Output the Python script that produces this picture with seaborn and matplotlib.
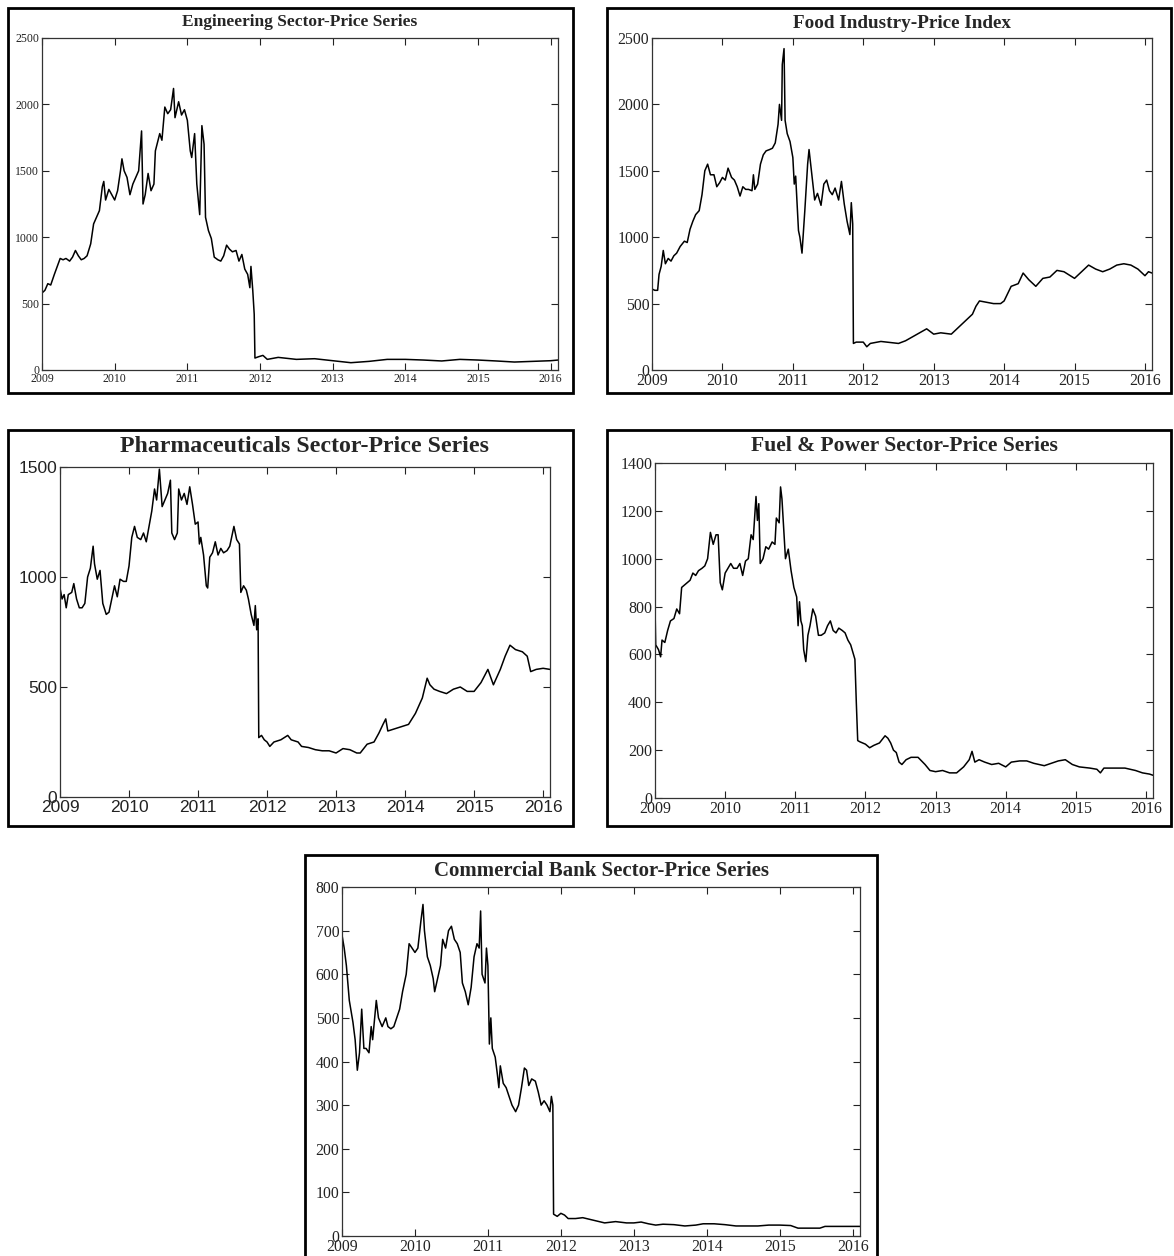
import matplotlib
matplotlib.use("Agg")
import matplotlib.pyplot as plt
from matplotlib.patches import Rectangle
import seaborn as sns
import pandas as pd

# ---------------- data (decimal year, price) ----------------
eng_t = [2009.0, 2009.04, 2009.08, 2009.12, 2009.17, 2009.21, 2009.25, 2009.29, 2009.33, 2009.38,
         2009.42, 2009.46, 2009.50, 2009.54, 2009.58, 2009.62, 2009.67, 2009.71, 2009.75, 2009.79,
         2009.83, 2009.85, 2009.875, 2009.92, 2009.96, 2010.0, 2010.04, 2010.08, 2010.10, 2010.13,
         2010.17, 2010.21, 2010.25, 2010.29, 2010.33, 2010.37, 2010.39, 2010.42, 2010.46, 2010.50,
         2010.54, 2010.56, 2010.62, 2010.65, 2010.69, 2010.73, 2010.77, 2010.81, 2010.83, 2010.88,
         2010.92, 2010.96, 2011.0, 2011.04, 2011.06, 2011.10, 2011.13, 2011.17, 2011.20, 2011.23,
         2011.25, 2011.29, 2011.33, 2011.37, 2011.42, 2011.46, 2011.50, 2011.54, 2011.58, 2011.62,
         2011.67, 2011.71, 2011.75, 2011.79, 2011.83, 2011.86, 2011.875, 2011.90, 2011.92, 2011.93,
         2011.98, 2012.04, 2012.10, 2012.25, 2012.50, 2012.75, 2013.0, 2013.25, 2013.5, 2013.75,
         2014.0, 2014.25, 2014.5, 2014.75, 2015.0, 2015.25, 2015.5, 2015.75, 2016.0, 2016.1]
eng_v = [580, 600, 650, 640, 720, 780, 840, 830, 840, 820,
         850, 900, 860, 830, 840, 860, 950, 1100, 1150, 1200,
         1380, 1420, 1280, 1360, 1320, 1280, 1350, 1500, 1590, 1500,
         1450, 1320, 1400, 1450, 1500, 1800, 1250, 1320, 1480, 1350,
         1400, 1650, 1780, 1730, 1980, 1930, 1960, 2120, 1900, 2020,
         1920, 1960, 1880, 1650, 1600, 1780, 1400, 1170, 1840, 1700,
         1150, 1050, 990, 850, 830, 820, 860, 940, 910, 890,
         900, 820, 870, 760, 720, 620, 780, 600, 420, 90,
         100, 110, 80, 95, 80, 85, 70, 55, 65, 80,
         80, 75, 68, 80, 75, 68, 60, 65, 70, 75]

food_t = [2009.0, 2009.04, 2009.08, 2009.10, 2009.13, 2009.16, 2009.19, 2009.23, 2009.27, 2009.31,
          2009.35, 2009.40, 2009.46, 2009.50, 2009.54, 2009.58, 2009.62, 2009.67, 2009.71, 2009.75,
          2009.79, 2009.83, 2009.88, 2009.92, 2009.96, 2010.0, 2010.04, 2010.08, 2010.13, 2010.17,
          2010.21, 2010.25, 2010.29, 2010.33, 2010.37, 2010.42, 2010.44, 2010.46, 2010.50, 2010.54,
          2010.58, 2010.62, 2010.67, 2010.71, 2010.75, 2010.79, 2010.81, 2010.84, 2010.85, 2010.875,
          2010.89, 2010.92, 2010.96, 2011.0, 2011.02, 2011.04, 2011.08, 2011.10, 2011.13, 2011.17,
          2011.21, 2011.23, 2011.27, 2011.31, 2011.35, 2011.40, 2011.44, 2011.48, 2011.52, 2011.56,
          2011.60, 2011.65, 2011.69, 2011.73, 2011.77, 2011.81, 2011.83, 2011.85, 2011.86, 2011.90,
          2012.0, 2012.05, 2012.10, 2012.25, 2012.50, 2012.60, 2012.70, 2012.80, 2012.90, 2012.95,
          2013.0, 2013.10, 2013.25, 2013.35, 2013.45, 2013.55, 2013.60, 2013.65, 2013.75, 2013.85,
          2013.95, 2014.0, 2014.10, 2014.20, 2014.27, 2014.35, 2014.45, 2014.55, 2014.65, 2014.75,
          2014.85, 2015.0, 2015.10, 2015.20, 2015.30, 2015.40, 2015.50, 2015.60, 2015.70, 2015.80,
          2015.90, 2016.0, 2016.05, 2016.1]
food_v = [610, 600, 600, 720, 780, 900, 800, 840, 820, 860,
          880, 930, 970, 960, 1060, 1120, 1170, 1200, 1320, 1500,
          1550, 1470, 1470, 1380, 1410, 1450, 1430, 1520, 1450, 1430,
          1380, 1310, 1380, 1360, 1360, 1350, 1470, 1360, 1400, 1550,
          1620, 1650, 1660, 1670, 1710, 1850, 2000, 1880, 2300, 2420,
          1880, 1780, 1720, 1600, 1400, 1460, 1050, 1000, 880, 1200,
          1550, 1660, 1470, 1280, 1330, 1240, 1400, 1430, 1350, 1320,
          1370, 1280, 1420, 1250, 1120, 1020, 1260, 1100, 200, 210,
          210, 175, 200, 215, 200, 220, 250, 280, 310, 290,
          270, 280, 270, 320, 370, 420, 480, 520, 510, 500,
          500, 520, 630, 650, 730, 680, 630, 690, 700, 750,
          740, 690, 740, 790, 760, 740, 760, 790, 800, 790,
          760, 710, 740, 730]

pharma_t = [2009.0, 2009.03, 2009.06, 2009.09, 2009.12, 2009.17, 2009.20, 2009.24, 2009.28, 2009.32,
            2009.36, 2009.40, 2009.44, 2009.48, 2009.50, 2009.54, 2009.58, 2009.62, 2009.67, 2009.71,
            2009.75, 2009.79, 2009.83, 2009.87, 2009.92, 2009.96, 2010.0, 2010.04, 2010.08, 2010.12,
            2010.17, 2010.21, 2010.25, 2010.29, 2010.33, 2010.37, 2010.40, 2010.44, 2010.48, 2010.52,
            2010.56, 2010.60, 2010.62, 2010.66, 2010.70, 2010.72, 2010.76, 2010.80, 2010.84, 2010.88,
            2010.92, 2010.96, 2011.0, 2011.02, 2011.04, 2011.08, 2011.12, 2011.14, 2011.17, 2011.21,
            2011.25, 2011.29, 2011.33, 2011.37, 2011.42, 2011.46, 2011.50, 2011.52, 2011.56, 2011.60,
            2011.62, 2011.66, 2011.70, 2011.73, 2011.77, 2011.81, 2011.83, 2011.85, 2011.87, 2011.88,
            2011.92, 2011.96, 2012.0, 2012.04, 2012.10, 2012.20, 2012.30, 2012.35, 2012.45, 2012.50,
            2012.60, 2012.70, 2012.80, 2012.90, 2013.0, 2013.10, 2013.20, 2013.30, 2013.35, 2013.45,
            2013.55, 2013.62, 2013.68, 2013.72, 2013.75, 2013.85, 2013.95, 2014.05, 2014.15, 2014.25,
            2014.32, 2014.36, 2014.42, 2014.50, 2014.60, 2014.70, 2014.80, 2014.90, 2015.0, 2015.10,
            2015.20, 2015.28, 2015.38, 2015.45, 2015.52, 2015.60, 2015.70, 2015.77, 2015.82, 2015.90,
            2016.0, 2016.1]
pharma_v = [950, 900, 920, 860, 920, 930, 970, 900, 860, 860,
            880, 1000, 1040, 1140, 1060, 990, 1030, 880, 830, 840,
            900, 960, 910, 990, 980, 980, 1050, 1180, 1230, 1180,
            1170, 1200, 1160, 1230, 1300, 1400, 1350, 1490, 1320, 1350,
            1380, 1440, 1200, 1170, 1200, 1400, 1350, 1380, 1330, 1410,
            1330, 1240, 1250, 1150, 1180, 1100, 960, 950, 1090, 1110,
            1160, 1100, 1130, 1110, 1120, 1140, 1200, 1230, 1170, 1150,
            930, 960, 940, 900, 830, 780, 870, 760, 810, 270,
            280, 260, 250, 230, 250, 260, 280, 260, 250, 230,
            225, 215, 210, 210, 200, 220, 215, 200, 200, 240,
            250, 290, 330, 355, 300, 310, 320, 330, 380, 450,
            540, 510, 490, 480, 470, 490, 500, 480, 480, 520,
            580, 510, 580, 640, 690, 670, 660, 640, 570, 580,
            585, 580]

fuel_t = [2009.0, 2009.01, 2009.05, 2009.08, 2009.10, 2009.14, 2009.18, 2009.22, 2009.27, 2009.31,
          2009.35, 2009.38, 2009.42, 2009.46, 2009.50, 2009.54, 2009.58, 2009.62, 2009.67, 2009.71,
          2009.75, 2009.79, 2009.83, 2009.87, 2009.90, 2009.93, 2009.96, 2010.0, 2010.04, 2010.08,
          2010.12, 2010.17, 2010.21, 2010.25, 2010.29, 2010.33, 2010.37, 2010.40, 2010.44, 2010.46,
          2010.48, 2010.50, 2010.54, 2010.58, 2010.62, 2010.67, 2010.71, 2010.73, 2010.77, 2010.79,
          2010.81, 2010.83, 2010.86, 2010.90, 2010.94, 2010.98, 2011.02, 2011.04, 2011.06, 2011.08,
          2011.10, 2011.12, 2011.15, 2011.18, 2011.21, 2011.25, 2011.29, 2011.33, 2011.37, 2011.42,
          2011.46, 2011.50, 2011.54, 2011.58, 2011.62, 2011.67, 2011.71, 2011.75, 2011.79, 2011.83,
          2011.85, 2011.87, 2011.89, 2011.92, 2011.96, 2012.0, 2012.06, 2012.12, 2012.20, 2012.28,
          2012.32, 2012.36, 2012.40, 2012.44, 2012.48, 2012.52, 2012.58, 2012.65, 2012.75, 2012.85,
          2012.92, 2013.0, 2013.10, 2013.20, 2013.30, 2013.40, 2013.48, 2013.52, 2013.56, 2013.62,
          2013.70, 2013.80, 2013.90, 2014.0, 2014.08, 2014.20, 2014.30, 2014.40, 2014.55, 2014.65,
          2014.75, 2014.85, 2014.95, 2015.05, 2015.20, 2015.30, 2015.35, 2015.40, 2015.55, 2015.70,
          2015.85, 2015.95, 2016.05, 2016.1]
fuel_v = [800, 640, 620, 590, 660, 650, 700, 740, 750, 790,
          770, 880, 890, 900, 910, 940, 930, 950, 960, 970,
          1000, 1110, 1060, 1100, 1100, 900, 870, 940, 960, 980,
          960, 960, 980, 930, 990, 1000, 1100, 1080, 1260, 1160,
          1230, 980, 1000, 1050, 1040, 1070, 1060, 1170, 1150, 1300,
          1250, 1150, 1000, 1040, 950, 880, 840, 720, 820, 740,
          720, 620, 570, 680, 720, 790, 760, 680, 680, 690,
          720, 740, 700, 690, 710, 700, 690, 660, 640, 600,
          580, 400, 240, 235, 230, 225, 210, 220, 230, 260,
          250, 230, 200, 190, 150, 140, 160, 170, 170, 140,
          115, 110, 115, 105, 105, 130, 160, 195, 150, 160,
          150, 140, 145, 130, 150, 155, 155, 145, 135, 145,
          155, 160, 140, 130, 125, 120, 105, 125, 125, 125,
          115, 105, 100, 95]

bank_t = [2009.0, 2009.03, 2009.06, 2009.08, 2009.10, 2009.13, 2009.15, 2009.18, 2009.21, 2009.24,
          2009.27, 2009.30, 2009.33, 2009.37, 2009.40, 2009.42, 2009.47, 2009.50, 2009.55, 2009.60,
          2009.63, 2009.67, 2009.71, 2009.75, 2009.79, 2009.83, 2009.88, 2009.92, 2009.96, 2010.0,
          2010.04, 2010.08, 2010.11, 2010.13, 2010.17, 2010.21, 2010.25, 2010.27, 2010.31, 2010.35,
          2010.38, 2010.42, 2010.46, 2010.50, 2010.54, 2010.58, 2010.62, 2010.65, 2010.69, 2010.73,
          2010.77, 2010.81, 2010.85, 2010.88, 2010.90, 2010.92, 2010.96, 2010.98, 2011.0, 2011.02,
          2011.04, 2011.06, 2011.10, 2011.13, 2011.15, 2011.17, 2011.21, 2011.25, 2011.29, 2011.33,
          2011.38, 2011.42, 2011.46, 2011.50, 2011.53, 2011.56, 2011.60, 2011.65, 2011.69, 2011.73,
          2011.77, 2011.81, 2011.85, 2011.87, 2011.89, 2011.90, 2011.95, 2012.0, 2012.05, 2012.10,
          2012.20, 2012.30, 2012.40, 2012.50, 2012.60, 2012.75, 2012.90, 2013.0, 2013.10, 2013.20,
          2013.30, 2013.40, 2013.55, 2013.70, 2013.85, 2013.95, 2014.10, 2014.25, 2014.40, 2014.55,
          2014.70, 2014.85, 2015.0, 2015.15, 2015.25, 2015.40, 2015.55, 2015.62, 2015.80, 2016.0,
          2016.1]
bank_v = [690, 660, 620, 580, 540, 510, 490, 450, 380, 420,
          520, 430, 430, 420, 480, 450, 540, 500, 480, 500,
          480, 475, 480, 500, 520, 560, 600, 670, 660, 650,
          660, 720, 760, 700, 640, 620, 590, 560, 590, 620,
          680, 660, 700, 710, 680, 670, 650, 580, 560, 530,
          570, 640, 670, 660, 745, 600, 580, 660, 620, 440,
          500, 430, 410, 370, 340, 390, 350, 340, 320, 300,
          285, 300, 340, 385, 380, 345, 360, 355, 330, 300,
          310, 300, 285, 320, 300, 50, 45, 52, 48, 40,
          40, 42, 38, 34, 30, 33, 30, 30, 32, 28,
          25, 27, 26, 23, 25, 28, 28, 26, 23, 23,
          23, 25, 25, 24, 18, 18, 18, 22, 22, 22,
          22]

year_ticks = [2009, 2010, 2011, 2012, 2013, 2014, 2015, 2016]

panels = [
    dict(title="Engineering Sector-Price Series", t=eng_t, v=eng_v,
         yticks=[0, 500, 1000, 1500, 2000, 2500], ymax=2500,
         box=(8, 8, 573, 393), ax=(42, 38, 558, 370), ty=22,
         tfs=12.5, lfs=8.5, lfam="Liberation Serif"),
    dict(title="Food Industry-Price Index", t=food_t, v=food_v,
         yticks=[0, 500, 1000, 1500, 2000, 2500], ymax=2500,
         box=(607, 8, 1171, 393), ax=(652, 38, 1152, 370), ty=23,
         tfs=13.8, lfs=11.3, lfam="Liberation Serif"),
    dict(title="Pharmaceuticals Sector-Price Series", t=pharma_t, v=pharma_v,
         yticks=[0, 500, 1000, 1500], ymax=1500,
         box=(8, 430, 573, 826), ax=(60, 467, 550, 797), ty=447,
         tfs=17.2, lfs=12.5, lfam="Liberation Sans"),
    dict(title="Fuel & Power Sector-Price Series", t=fuel_t, v=fuel_v,
         yticks=[0, 200, 400, 600, 800, 1000, 1200, 1400], ymax=1400,
         box=(607, 430, 1171, 826), ax=(655, 463, 1153, 798), ty=446,
         tfs=15.6, lfs=11.5, lfam="Liberation Serif"),
    dict(title="Commercial Bank Sector-Price Series", t=bank_t, v=bank_v,
         yticks=[0, 100, 200, 300, 400, 500, 600, 700, 800], ymax=800,
         box=(305, 855, 877, 1262), ax=(342, 887, 860, 1236), ty=871,
         tfs=15, lfs=11.3, lfam="Liberation Serif"),
]

W, H = 1174, 1256
sns.set_style("ticks")
plt.rcParams["font.family"] = ["Liberation Serif", "DejaVu Serif"]

fig = plt.figure(figsize=(W / 100, H / 100), dpi=100)

for p in panels:
    bx0, by0, bx1, by1 = p["box"]
    fig.patches.append(Rectangle((bx0 / W, 1 - by1 / H), (bx1 - bx0) / W, (by1 - by0) / H,
                                 transform=fig.transFigure, fill=False,
                                 edgecolor="black", linewidth=2.0, zorder=0))
    ax0, ay0, ax1, ay1 = p["ax"]
    ax = fig.add_axes([ax0 / W, 1 - ay1 / H, (ax1 - ax0) / W, (ay1 - ay0) / H])
    df = pd.DataFrame({"year": p["t"], "price": p["v"]})
    sns.lineplot(data=df, x="year", y="price", ax=ax, color="black",
                 linewidth=1.1, estimator=None, sort=False)
    ax.set_xlim(2009, 2016.1)
    ax.set_ylim(0, p["ymax"])
    ax.set_xticks(year_ticks)
    ax.set_yticks(p["yticks"])
    ax.set_xlabel("")
    ax.set_ylabel("")
    ax.tick_params(direction="in", length=5, width=0.8, top=True, right=True,
                   labelsize=p["lfs"], pad=2, colors="#222222")
    for lab in ax.get_xticklabels() + ax.get_yticklabels():
        lab.set_family(p["lfam"])
    for s in ax.spines.values():
        s.set_linewidth(0.9)
        s.set_color("#333333")
    fig.text((ax0 + ax1) / 2 / W, 1 - p["ty"] / H, p["title"], ha="center", va="center",
             fontsize=p["tfs"], fontweight="bold", family="Liberation Serif")

fig.savefig("out.png", dpi=100)
